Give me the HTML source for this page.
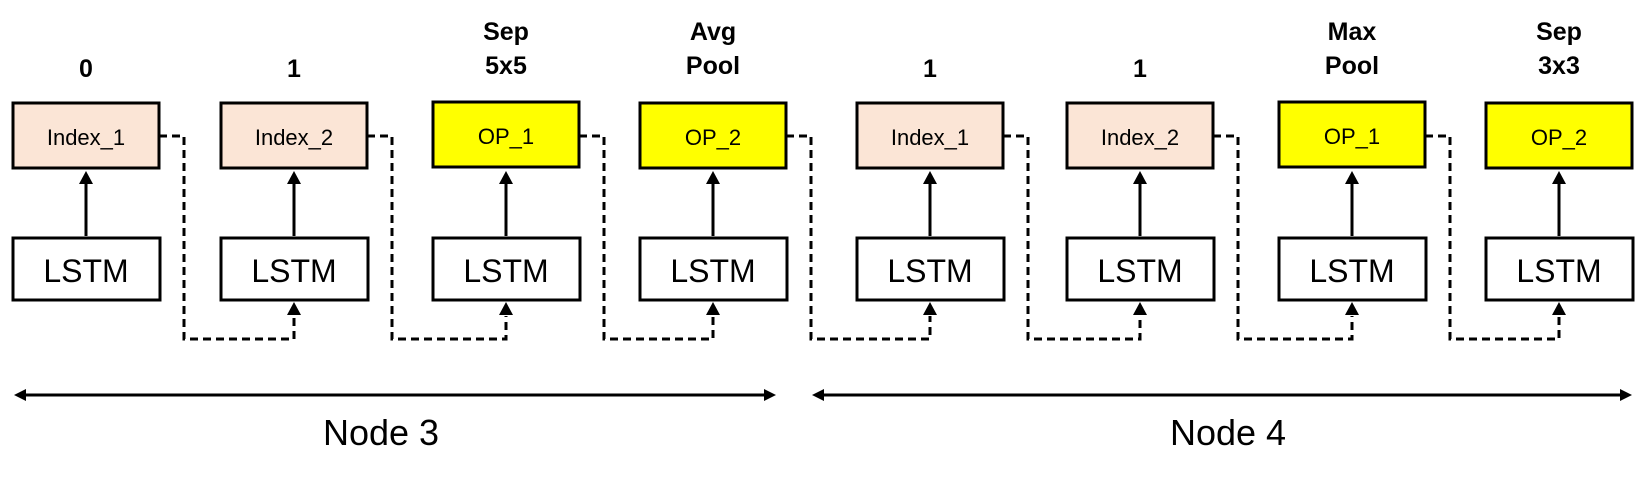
<!DOCTYPE html>
<html><head><meta charset="utf-8"><style>html,body{margin:0;padding:0;background:#fff}svg{display:block}</style></head>
<body>
<svg width="1645" height="477" viewBox="0 0 1645 477" xmlns="http://www.w3.org/2000/svg" font-family="Liberation Sans, sans-serif">
<defs>
<marker id="ah" markerWidth="10" markerHeight="10" refX="5" refY="5" orient="auto" markerUnits="userSpaceOnUse"><path d="M0,0 L10,5 L0,10 z" fill="#000"/></marker>
</defs>
<g id="units"></g>
<line x1="24" y1="395" x2="766" y2="395" stroke="#000" stroke-width="3"/>
<path d="M14,395 L26,389 L26,401 z"/><path d="M776,395 L764,389 L764,401 z"/>
<line x1="822" y1="395" x2="1622" y2="395" stroke="#000" stroke-width="3"/>
<path d="M812,395 L824,389 L824,401 z"/><path d="M1632,395 L1620,389 L1620,401 z"/>
<text x="381" y="445" font-size="36" text-anchor="middle">Node 3</text>
<text x="1228" y="445" font-size="36" text-anchor="middle">Node 4</text>
</svg>
<script>
var cx=[86,294,506,713,930,1140,1352,1559];
var lab=[["0"],["1"],["Sep","5x5"],["Avg","Pool"],["1"],["1"],["Max","Pool"],["Sep","3x3"]];
var txt=["Index_1","Index_2","OP_1","OP_2","Index_1","Index_2","OP_1","OP_2"];
var s="";
for(var i=0;i<8;i++){
 var c=cx[i],y=i%2==0&&txt[i].indexOf("OP")==0?102:103;
 var col=txt[i].indexOf("OP")==0?"#ffff00":"#fbe5d6";
 s+='<rect x="'+(c-73)+'" y="'+y+'" width="146" height="65" fill="'+col+'" stroke="#000" stroke-width="3"/>';
 s+='<text x="'+c+'" y="'+(y+42)+'" font-size="22" text-anchor="middle">'+txt[i]+'</text>';
 s+='<rect x="'+(c-73)+'" y="238" width="147" height="62" fill="#fff" stroke="#000" stroke-width="3"/>';
 s+='<text x="'+c+'" y="282" font-size="32" text-anchor="middle">LSTM</text>';
 s+='<line x1="'+c+'" y1="236" x2="'+c+'" y2="183" stroke="#000" stroke-width="3"/>';
 s+='<path d="M'+c+',171 L'+(c-7)+',184 L'+(c+7)+',184 z"/>';
 if(lab[i].length==1) s+='<text x="'+c+'" y="77" font-size="25" font-weight="bold" text-anchor="middle">'+lab[i][0]+'</text>';
 else s+='<text x="'+c+'" y="40" font-size="25" font-weight="bold" text-anchor="middle">'+lab[i][0]+'</text><text x="'+c+'" y="74" font-size="25" font-weight="bold" text-anchor="middle">'+lab[i][1]+'</text>';
 if(i<7){var n=cx[i+1],r=c+73,xx=c+98;
  s+='<path d="M'+r+',136 L'+xx+',136 L'+xx+',339 L'+n+',339 L'+n+',316" fill="none" stroke="#000" stroke-width="3" stroke-dasharray="8,5"/>';
  s+='<path d="M'+n+',302 L'+(n-7)+',315 L'+(n+7)+',315 z"/>';}
}
document.getElementById("units").innerHTML=s;
</script>
</body></html>
